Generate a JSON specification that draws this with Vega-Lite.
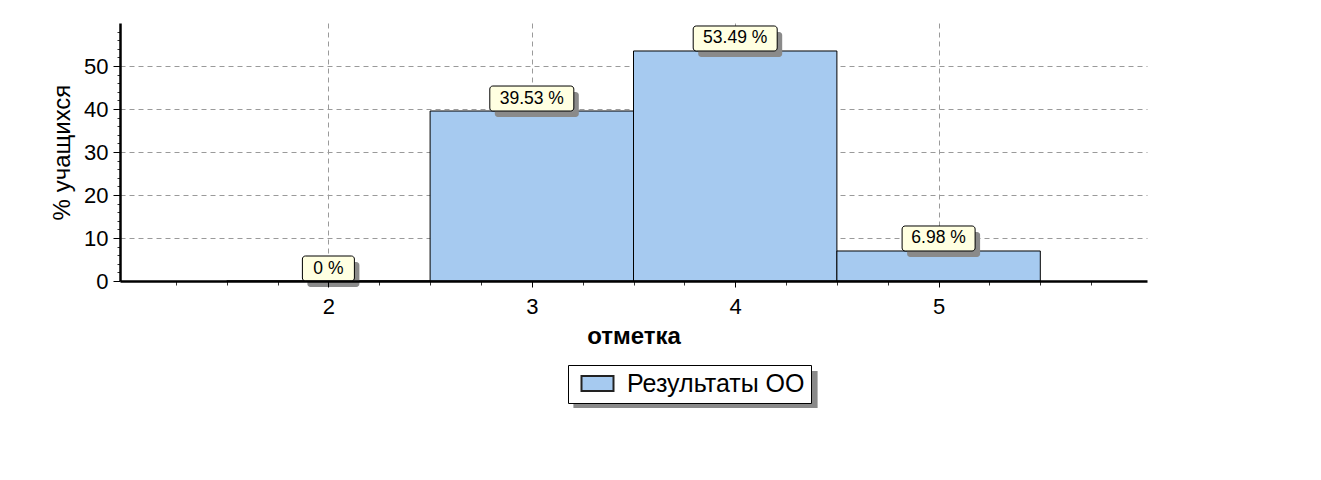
{
  "$schema": "https://vega.github.io/schema/vega-lite/v6.json",
  "width": 1027,
  "height": 258,
  "autosize": {"type": "none"},
  "padding": {"left": 120, "top": 23, "right": 174, "bottom": 199},
  "background": "white",
  "config": {"view": {"stroke": null}, "font": "Liberation Sans"},
  "data": {"values": [
    {"grade": 2, "lo": 1.5, "hi": 2.5, "pct": 0, "label": "0 %"},
    {"grade": 3, "lo": 2.5, "hi": 3.5, "pct": 39.53, "label": "39.53 %"},
    {"grade": 4, "lo": 3.5, "hi": 4.5, "pct": 53.49, "label": "53.49 %"},
    {"grade": 5, "lo": 4.5, "hi": 5.5, "pct": 6.98, "label": "6.98 %"}
  ]},
  "layer": [
    {
      "mark": {"type": "bar", "stroke": "#000000", "strokeWidth": 1},
      "encoding": {
        "x": {"field": "lo", "type": "quantitative", "scale": {"domain": [1, 6], "nice": false, "zero": false},
          "axis": {"orient": "bottom", "values": [2, 3, 4, 5], "grid": true, "gridColor": "#9a9a9a", "gridDash": [5, 4], "gridWidth": 1, "domain": false, "ticks": false, "labels": false, "title": null, "zindex": 0}},
        "x2": {"field": "hi"},
        "y": {"field": "pct", "type": "quantitative", "scale": {"domain": [0, 60], "nice": false, "zero": true},
          "axis": {"orient": "left", "values": [10, 20, 30, 40, 50], "grid": true, "gridColor": "#9a9a9a", "gridDash": [5, 4], "gridWidth": 1, "domain": false, "ticks": false, "labels": false, "title": null, "zindex": 0}},
        "y2": {"datum": 0},
        "fill": {"datum": "Результаты ОО", "type": "nominal", "scale": {"range": ["#A6CAF0"]},
          "legend": {"orient": "none", "legendX": 448, "legendY": 342, "title": null, "fillColor": "white", "strokeColor": "black", "padding": 6, "labelFontSize": 25, "labelLimit": 400, "labelColor": "#000000", "labelFont": "Liberation Sans", "symbolType": "M-1.6,-0.75H1.6V0.75H-1.6Z", "symbolSize": 400, "symbolStrokeColor": "#222222", "symbolStrokeWidth": 2, "symbolOpacity": 1, "symbolOffset": 11, "labelOffset": 17, "cornerRadius": 0, "zindex": 2}}
      }
    },
    {
      "transform": [{"filter": "datum.grade == 3 || datum.grade == 4"}],
      "mark": {"type": "bar", "width": 84, "cornerRadius": 3, "xOffset": 5, "yOffset": -19, "y2Offset": 6},
      "encoding": {
        "x": {"field": "grade", "type": "quantitative", "scale": {"domain": [1, 6], "nice": false, "zero": false},
          "axis": {"orient": "bottom", "values": [1.25, 1.5, 1.75, 2.25, 2.5, 2.75, 3.25, 3.5, 3.75, 4.25, 4.5, 4.75, 5.25, 5.5, 5.75], "tickSize": 4, "tickColor": "#333333", "domain": false, "labels": false, "grid": false, "title": null, "zindex": 1}},
        "y": {"field": "pct", "type": "quantitative", "scale": {"domain": [0, 60], "nice": false},
          "axis": {"orient": "left", "values": [2, 4, 6, 8, 12, 14, 16, 18, 22, 24, 26, 28, 32, 34, 36, 38, 42, 44, 46, 48, 52, 54, 56, 58], "tickSize": 3, "tickColor": "#333333", "domain": false, "labels": false, "grid": false, "title": null, "zindex": 1}},
        "y2": {"field": "pct"},
        "color": {"datum": "тень", "type": "nominal", "scale": {"range": ["#8a8a8a"]},
          "legend": {"orient": "none", "legendX": 557, "legendY": 348, "title": null, "padding": 0, "labelExpr": "''", "labelOffset": 0, "labelFontSize": 1, "symbolType": "M-6.6,-1H6.6V1H-6.6Z", "symbolSize": 1369, "symbolStrokeWidth": 0, "symbolOpacity": 1, "symbolOffset": 0, "zindex": 1,
            "encode": {"symbols": {"update": {"fill": {"value": "#000000"}, "stroke": {"value": "#000000"}, "opacity": {"value": 1}}}}}}
      }
    },
    {
      "transform": [{"filter": "datum.grade == 5"}],
      "mark": {"type": "bar", "width": 73, "fill": "#8a8a8a", "cornerRadius": 3, "xOffset": 5, "yOffset": -19, "y2Offset": 6},
      "encoding": {
        "x": {"field": "grade", "type": "quantitative", "axis": null},
        "y": {"field": "pct", "type": "quantitative", "axis": null},
        "y2": {"field": "pct"}
      }
    },
    {
      "transform": [{"filter": "datum.grade == 2"}],
      "mark": {"type": "bar", "width": 52, "fill": "#8a8a8a", "cornerRadius": 3, "xOffset": 5, "yOffset": -19, "y2Offset": 6},
      "encoding": {
        "x": {"field": "grade", "type": "quantitative", "axis": null},
        "y": {"field": "pct", "type": "quantitative", "axis": null},
        "y2": {"field": "pct"}
      }
    },
    {
      "transform": [{"filter": "datum.grade == 3 || datum.grade == 4"}],
      "mark": {"type": "bar", "width": 84, "fill": "#FFFFE1", "stroke": "#000000", "strokeWidth": 1, "cornerRadius": 3, "yOffset": -25, "y2Offset": 0},
      "encoding": {
        "x": {"field": "grade", "type": "quantitative", "axis": null},
        "y": {"field": "pct", "type": "quantitative", "axis": null},
        "y2": {"field": "pct"}
      }
    },
    {
      "transform": [{"filter": "datum.grade == 5"}],
      "mark": {"type": "bar", "width": 73, "fill": "#FFFFE1", "stroke": "#000000", "strokeWidth": 1, "cornerRadius": 3, "yOffset": -25, "y2Offset": 0},
      "encoding": {
        "x": {"field": "grade", "type": "quantitative", "axis": null},
        "y": {"field": "pct", "type": "quantitative", "axis": null},
        "y2": {"field": "pct"}
      }
    },
    {
      "transform": [{"filter": "datum.grade == 2"}],
      "mark": {"type": "bar", "width": 52, "fill": "#FFFFE1", "stroke": "#000000", "strokeWidth": 1, "cornerRadius": 3, "yOffset": -25, "y2Offset": 0},
      "encoding": {
        "x": {"field": "grade", "type": "quantitative", "axis": null},
        "y": {"field": "pct", "type": "quantitative", "axis": null},
        "y2": {"field": "pct"}
      }
    },
    {
      "mark": {"type": "text", "fontSize": 17.5, "font": "Liberation Sans", "color": "#000000", "align": "center", "baseline": "middle", "dy": -12.5},
      "encoding": {
        "x": {"field": "grade", "type": "quantitative", "scale": {"domain": [1, 6], "nice": false, "zero": false},
          "axis": {"orient": "bottom", "values": [2, 3, 4, 5], "tickSize": 6, "tickColor": "#000000", "domain": true, "domainColor": "#000000", "domainWidth": 2.5, "labelFontSize": 22, "labelColor": "#000000", "labelPadding": 9, "labelFlush": false, "labelOverlap": false, "grid": false, "title": "отметка", "titleFontSize": 24, "titleFontWeight": "bold", "titleColor": "#000000", "titlePadding": 7, "zindex": 1}},
        "y": {"field": "pct", "type": "quantitative", "scale": {"domain": [0, 60], "nice": false},
          "axis": {"orient": "left", "values": [0, 10, 20, 30, 40, 50], "tickSize": 7, "tickColor": "#000000", "domain": true, "domainColor": "#000000", "domainWidth": 2.5, "labelFontSize": 22, "labelColor": "#000000", "labelPadding": 5, "labelOverlap": false, "grid": false, "title": "% учащихся", "titleFontSize": 24, "titleFontWeight": "normal", "titleColor": "#000000", "titlePadding": 9, "zindex": 1}},
        "text": {"field": "label", "type": "nominal"}
      }
    }
  ],
  "resolve": {"axis": {"x": "independent", "y": "independent"}}
}
